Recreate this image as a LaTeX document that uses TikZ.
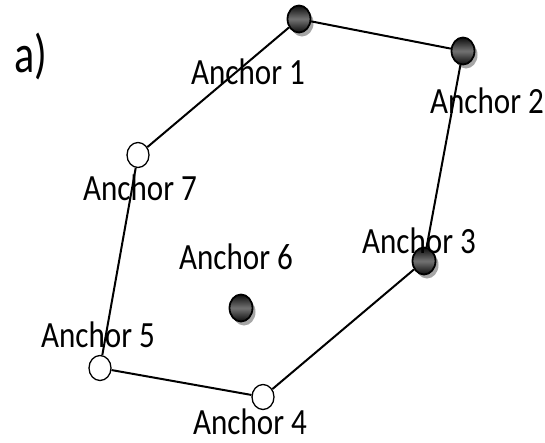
\documentclass[tikz,border=0pt]{standalone}
\usepackage{fontspec}
\setmainfont{Carlito}
\usetikzlibrary{shapes.geometric,shadows}
\begin{document}
\begin{tikzpicture}[x=1pt,y=-1pt,
  anchordark/.style={ellipse, draw=black, line width=1.8pt, inner sep=0pt,
    minimum width=23pt, minimum height=27pt,
    top color=black!95, bottom color=black!95, middle color=black!55,
    drop shadow={shadow xshift=3pt, shadow yshift=-4pt, fill=gray!70, opacity=1}},
  anchorlight/.style={ellipse, draw=black, line width=1.3pt, inner sep=0pt,
    minimum width=22pt, minimum height=25pt, fill=white},
  lbl/.style={anchor=base, inner sep=0pt, font=\fontsize{37}{40}\selectfont},
  edge/.style={line width=2pt, black}]
\useasboundingbox (0,0) rectangle (545,442);

% anchor points
\node[anchordark]  (a1) at (299,19)  {};
\node[anchordark]  (a2) at (463,51)  {};
\node[anchordark]  (a3) at (424,261) {};
\node[anchorlight] (a4) at (263,397) {};
\node[anchorlight] (a5) at (100,368) {};
\node[anchordark]  (a6) at (241,308) {};
\node[anchorlight] (a7) at (138,155) {};

% boundary polygon
\draw[edge] (a1) -- (a2);
\draw[edge] (a3) -- (a4);
\draw[edge] (a4) -- (a5);

% labels
\node[lbl] (l1) at (248,84)  {\scalebox{0.84}[1]{Anchor 1}};
\node[lbl] (l2) at (487,113) {\scalebox{0.84}[1]{Anchor 2}};
\node[lbl] (l3) at (419,253) {\scalebox{0.84}[1]{Anchor 3}};
\node[lbl] (l4) at (250,434) {\scalebox{0.84}[1]{Anchor 4}};
\node[lbl] (l5) at (98,347)  {\scalebox{0.84}[1]{Anchor 5}};
\node[lbl] (l6) at (236,269) {\scalebox{0.84}[1]{Anchor 6}};
\node[lbl] (l7) at (140,200) {\scalebox{0.84}[1]{Anchor 7}};
\node[anchor=base west, inner sep=0pt, font=\fontsize{54}{58}\selectfont] (tag) at (14,72) {\scalebox{0.78}[1]{a)}};

% edges that pass across the labels
\draw[edge] (a1) -- (a7);
\draw[edge] (a2) -- (a3);
\draw[edge] (a5) -- (a7);
\end{tikzpicture}
\end{document}
